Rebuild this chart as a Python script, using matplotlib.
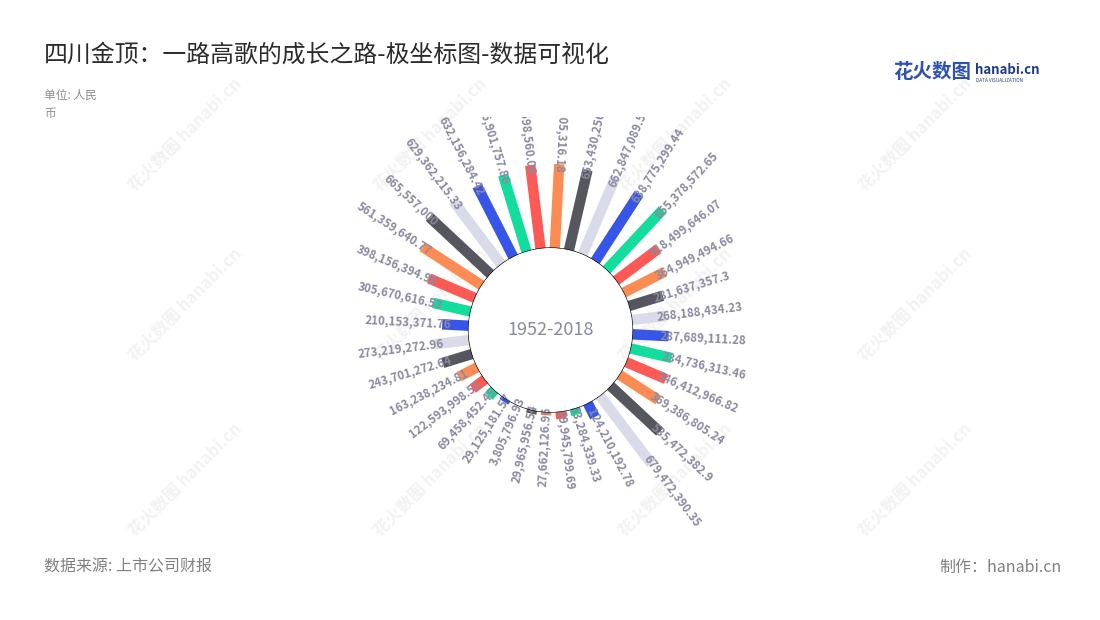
#!/usr/bin/env python3

import numpy as np
import matplotlib.pyplot as plt
from matplotlib.transforms import Bbox

plt.rcParams['font.family'] = ['Noto Sans CJK SC', 'DejaVu Sans']

#- Revenue values (yuan), clockwise from the top of the ring
values = [668405316.18, 653430256.17, 662847089.55, 638775299.44, 655378572.65,
          418499646.07, 364949494.66, 281637357.3, 268188434.23, 287689111.28,
          334736313.46, 346412966.82, 369386805.24, 535472382.9, 679472390.35,
          124210192.78, 53284339.33, 59945799.69, 27662126.96, 29965956.54,
          3805796.93, 29125181.57, 69458452.45, 122593998.51, 163238234.81,
          243701272.64, 273219272.96, 210153371.76, 305670616.53, 398156394.96,
          561359640.77, 665557000, 629362215.33, 632156284.42, 636901757.86,
          667598560.06]
period = "1952-2018"
title = "四川金顶：一路高歌的成长之路-极坐标图-数据可视化"
unit = "单位: 人民\n币"
source = "数据来源: 上市公司财报"
maker = "制作：hanabi.cn"

palette = ["#fd8c54", "#56565f", "#d9dce8", "#3755e6", "#12dd9c", "#fd5a56"]
label_color = "#8a8aa0"

W, H = 1100, 620
cx, cy = 550.5, 330
r_in, r_out = 82, 170
rmax = 700e6
rorigin = -r_in / (r_out - r_in) * rmax
px = rmax / (r_out - r_in)   # data units per pixel

fig = plt.figure(figsize=(W / 100, H / 100), dpi=100)
fig.patch.set_facecolor("white")

#- faint watermark grid in the background
for wx in [185, 430, 675, 915]:
    for wy in [135, 305, 480]:
        fig.text(wx / W, 1 - wy / H, "花火数图 hanabi.cn", rotation=45,
                 ha="center", va="center", fontsize=12, color="#f2f2f2",
                 fontweight="bold", zorder=-5)

ax = fig.add_axes([(cx - r_out) / W, (H - cy - r_out) / H, 2 * r_out / W, 2 * r_out / H],
                  projection="polar")
ax.set_theta_zero_location("N")
ax.set_theta_direction(-1)
ax.set_ylim(0, rmax)
ax.set_rorigin(rorigin)
ax.set_axis_off()
ax.set_zorder(1)

n = len(values)
theta_deg = 3 + np.arange(n) * 360 / n
clip = Bbox.from_extents(0, 0, W, H - 117)

for i, v in enumerate(values):
    th = np.radians(theta_deg[i])
    ax.plot([th, th], [0, v], color=palette[i % len(palette)], lw=7.5,
            solid_capstyle="butt", zorder=2)
    txt = f"{v:,.2f}".rstrip("0").rstrip(".")
    if 5 < theta_deg[i] < 180:
        rot, ha = 90 - theta_deg[i], "left"
    else:
        rot, ha = 270 - theta_deg[i], "right"
    t = ax.text(th, v - 9 * px, txt, rotation=rot, rotation_mode="anchor",
                ha=ha, va="center", fontsize=8.3, fontweight="bold",
                color=label_color, zorder=3)
    t.set_clip_path(None)
    t.set_clip_box(clip)
    t.set_clip_on(True)

#- white hub over the inner ends of the labels
ring = np.linspace(0, 2 * np.pi, 361)
ax.fill(ring, np.zeros_like(ring), facecolor="white", edgecolor="black",
        lw=0.9, zorder=4)
ax.text(0.5, 0.5, period, transform=ax.transAxes, ha="center", va="center",
        fontsize=13, color=label_color, zorder=5)

#- titles and notes
fig.text(44 / W, 1 - 55 / H, title, ha="left", va="center", fontsize=17.2, color="#2b2b2b")
fig.text(44 / W, 1 - 104 / H, unit, ha="left", va="center", fontsize=8.5,
         color="#8c8c8c", linespacing=1.5)
fig.text(44 / W, 1 - 567 / H, source, ha="left", va="center", fontsize=11.5, color="#808080")
fig.text(1062 / W, 1 - 567 / H, maker, ha="right", va="center", fontsize=11.5, color="#808080")

#- logo
fig.text(893 / W, 1 - 72 / H, "花火数图", ha="left", va="center", fontsize=14,
         fontweight="bold", color="#2f52b0")
fig.text(975 / W, 1 - 70 / H, "hanabi.cn", ha="left", va="center", fontsize=9.5,
         fontweight="bold", color="#1f3c88")
fig.text(976 / W, 1 - 80 / H, "DATA VISUALIZATION", ha="left", va="center",
         fontsize=3.4, color="#1f3c88")

plt.savefig("out.png", dpi=100)
